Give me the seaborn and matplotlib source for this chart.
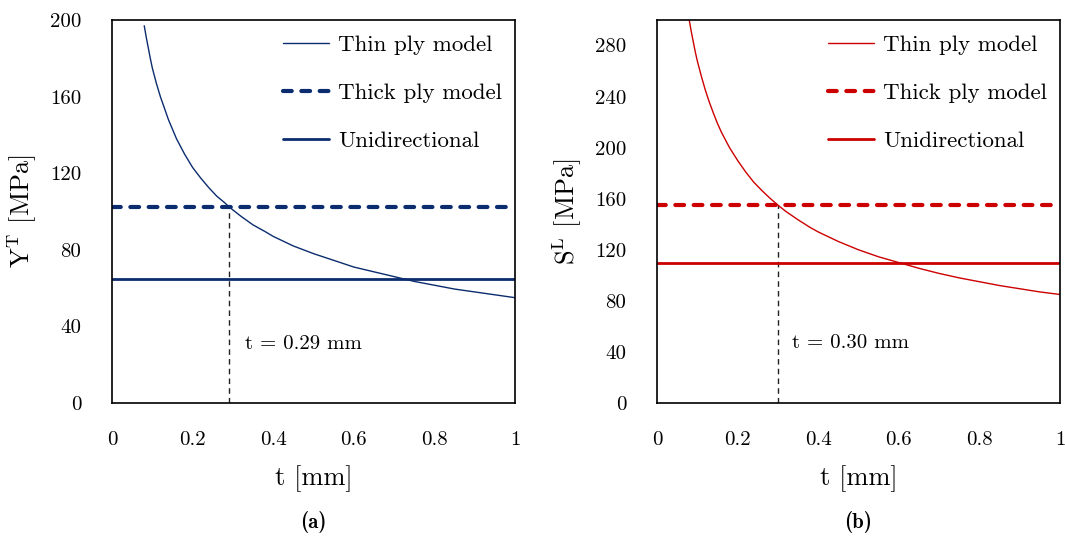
import numpy as np
import pandas as pd
import matplotlib
matplotlib.use("Agg")
import matplotlib.pyplot as plt
import seaborn as sns

# ---------------- data ----------------
t_a = [0.08, 0.085, 0.09, 0.095, 0.10, 0.11, 0.12, 0.13, 0.14, 0.15, 0.16,
       0.17, 0.18, 0.19, 0.20, 0.22, 0.24, 0.26, 0.28, 0.29, 0.32, 0.35,
       0.38, 0.40, 0.45, 0.50, 0.55, 0.60, 0.65, 0.70, 0.75, 0.80, 0.85,
       0.90, 0.95, 1.00]
thin_a = [197, 191, 185.5, 180, 175, 167, 160, 154, 148, 143, 138,
          134, 130, 126.5, 123, 117.5, 112.5, 108, 104.5, 102.5, 97.5, 93,
          89.5, 87, 82, 78, 74.5, 71, 68.5, 66, 63.5, 61.5, 59.5,
          58, 56.5, 55]
thick_a = 102.5
uni_a = 64.5
tcrit_a = 0.29

t_b = [0.08, 0.085, 0.09, 0.095, 0.10, 0.11, 0.12, 0.13, 0.14, 0.15, 0.16,
       0.17, 0.18, 0.19, 0.20, 0.22, 0.24, 0.26, 0.28, 0.30, 0.32, 0.35,
       0.38, 0.40, 0.45, 0.50, 0.55, 0.60, 0.65, 0.70, 0.75, 0.80, 0.85,
       0.90, 0.95, 1.00]
thin_b = [300, 291, 283, 275, 268, 256, 245, 235.5, 227, 219, 212,
          206, 200, 195, 190, 181, 173, 166.5, 160.5, 155, 150, 143.5,
          137.5, 134, 126.5, 120, 114.5, 110, 105.5, 101.5, 98, 95, 92,
          89.5, 87, 85]
thick_b = 155
uni_b = 110
tcrit_b = 0.30

xticks = [0, 0.2, 0.4, 0.6, 0.8, 1]
xticklabels = ["0", "0.2", "0.4", "0.6", "0.8", "1"]
yticks_a = [0, 40, 80, 120, 160, 200]
yticks_b = [0, 40, 80, 120, 160, 200, 240, 280]

legend_labels = ["Thin ply model", "Thick ply model", "Unidirectional"]
ylabel_a = r"Y$^{\mathrm{T}}$ [MPa]"
ylabel_b = r"S$^{\mathrm{L}}$ [MPa]"
xlabel = "t [mm]"
annot_a = "t = 0.29 mm"
annot_b = "t = 0.30 mm"
panel_a = "(a)"
panel_b = "(b)"

# ---------------- style ----------------
sns.set_theme(style="white")
plt.rcParams["font.family"] = ["cmr10", "DejaVu Serif"]
plt.rcParams["mathtext.fontset"] = "cm"
plt.rcParams["axes.formatter.use_mathtext"] = True
plt.rcParams["axes.unicode_minus"] = False
plt.rcParams["text.color"] = "black"
plt.rcParams["axes.labelcolor"] = "black"
plt.rcParams["xtick.color"] = "black"
plt.rcParams["ytick.color"] = "black"

navy = "#0b2c6e"
red = "#cc0000"

fig = plt.figure(figsize=(10.65, 5.40), dpi=100)
W, H = 1065, 540
ax_a = fig.add_axes([112 / W, (H - 403) / H, 403 / W, 383 / H])
ax_b = fig.add_axes([657 / W, (H - 403) / H, 403 / W, 383 / H])


def panel(ax, t, thin, thick, uni, tcrit, color, ylim, yticks, ylabel,
          annot, annot_xy, plabel):
    df = pd.DataFrame({"t": t, "v": thin})
    sns.lineplot(data=df, x="t", y="v", ax=ax, color=color, lw=1.0,
                 label=legend_labels[0])
    ax.plot([0, 1], [thick, thick], color=color, lw=3.0, ls=(0, (2.1, 2.3)),
            dash_capstyle="round", label=legend_labels[1])
    ax.plot([0, 1], [uni, uni], color=color, lw=2.0, label=legend_labels[2])
    ax.plot([tcrit, tcrit], [0, thick], color="#222222", lw=1.0,
            ls=(0, (4, 3)), zorder=1)
    ax.text(annot_xy[0], annot_xy[1], annot, fontsize=15, ha="left",
            va="center", color="black")

    ax.set_xlim(0, 1)
    ax.set_ylim(*ylim)
    ax.set_xticks(xticks)
    ax.set_xticklabels(xticklabels)
    ax.set_yticks(yticks)
    ax.set_yticklabels([str(v) for v in yticks])
    ax.tick_params(direction="in", length=6, width=0.9, labelsize=15,
                   pad=20, colors="black")
    ax.tick_params(axis="y", pad=22)
    for s in ax.spines.values():
        s.set_color("black")
        s.set_linewidth(1.2)
    ax.set_xlabel(xlabel, fontsize=19, labelpad=12, color="black")
    ax.set_ylabel(ylabel, fontsize=19, labelpad=8, color="black")

    ax.legend(loc="upper left", bbox_to_anchor=(0.424, 0.962),
              frameon=False, fontsize=16.5, handlelength=2.0,
              handletextpad=0.4, labelspacing=1.22, borderpad=0,
              borderaxespad=0, labelcolor="black")
    ax.text(0.5, -0.31, plabel, transform=ax.transAxes, ha="center",
            va="center", fontsize=15, family=["cmb10", "DejaVu Serif"],
            fontweight="bold", color="black")


panel(ax_a, t_a, thin_a, thick_a, uni_a, tcrit_a, navy, (0, 200), yticks_a,
      ylabel_a, annot_a, (0.33, 31), panel_a)
panel(ax_b, t_b, thin_b, thick_b, uni_b, tcrit_b, red, (0, 300), yticks_b,
      ylabel_b, annot_b, (0.335, 47), panel_b)

fig.savefig("out.png", dpi=100)
